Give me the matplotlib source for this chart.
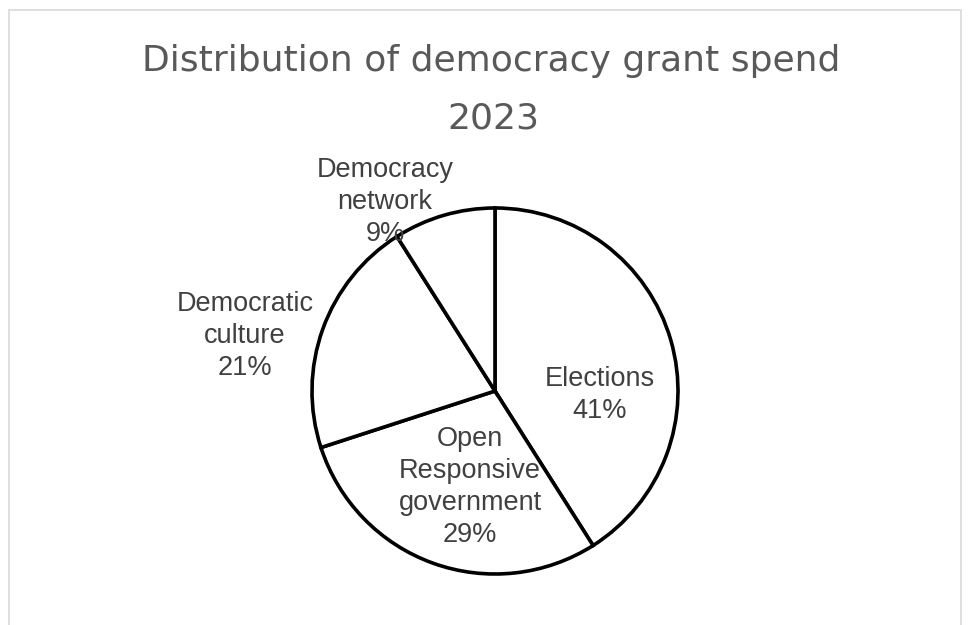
import matplotlib.pyplot as plt
from matplotlib.patches import Rectangle

# Democracy grant spend by area, 2023 (percent)
categories = ["Elections", "Open\nResponsive\ngovernment", "Democratic\nculture", "Democracy\nnetwork"]
shares = [41, 29, 21, 9]

W, H = 968, 625
# label block centres in pixels (x, y from top)
label_pos = [(600, 395), (470, 487), (245, 336), (385, 202)]

fig = plt.figure(figsize=(W / 100, H / 100), dpi=100)
ax = fig.add_axes([0, 0, 1, 1])

wedges, _ = ax.pie(shares, startangle=90, counterclock=False,
                   center=(495, H - 391), radius=183,
                   wedgeprops=dict(facecolor="white", edgecolor="black", linewidth=2.6))

ax.set_xlim(0, W)
ax.set_ylim(0, H)
ax.set_aspect("equal")
ax.axis("off")

# chart area border
ax.add_patch(Rectangle((9, -5), 952, H - 10 + 5, fill=False, edgecolor="#d9d9d9", linewidth=1.2))

for name, val, (px, py) in zip(categories, shares, label_pos):
    ax.text(px, H - py, f"{name}\n{val}%", ha="center", va="center",
            fontsize=19.5, family="Liberation Sans", color="#404040", linespacing=1.3)

ax.text(491, H - 71.5, "Distribution of democracy grant spend", ha="center", va="baseline",
        fontsize=26, family="DejaVu Sans", color="#595959")
ax.text(493, H - 128.5, "2023", ha="center", va="baseline",
        fontsize=26, family="DejaVu Sans", color="#595959")

fig.savefig("out.png", dpi=100)
